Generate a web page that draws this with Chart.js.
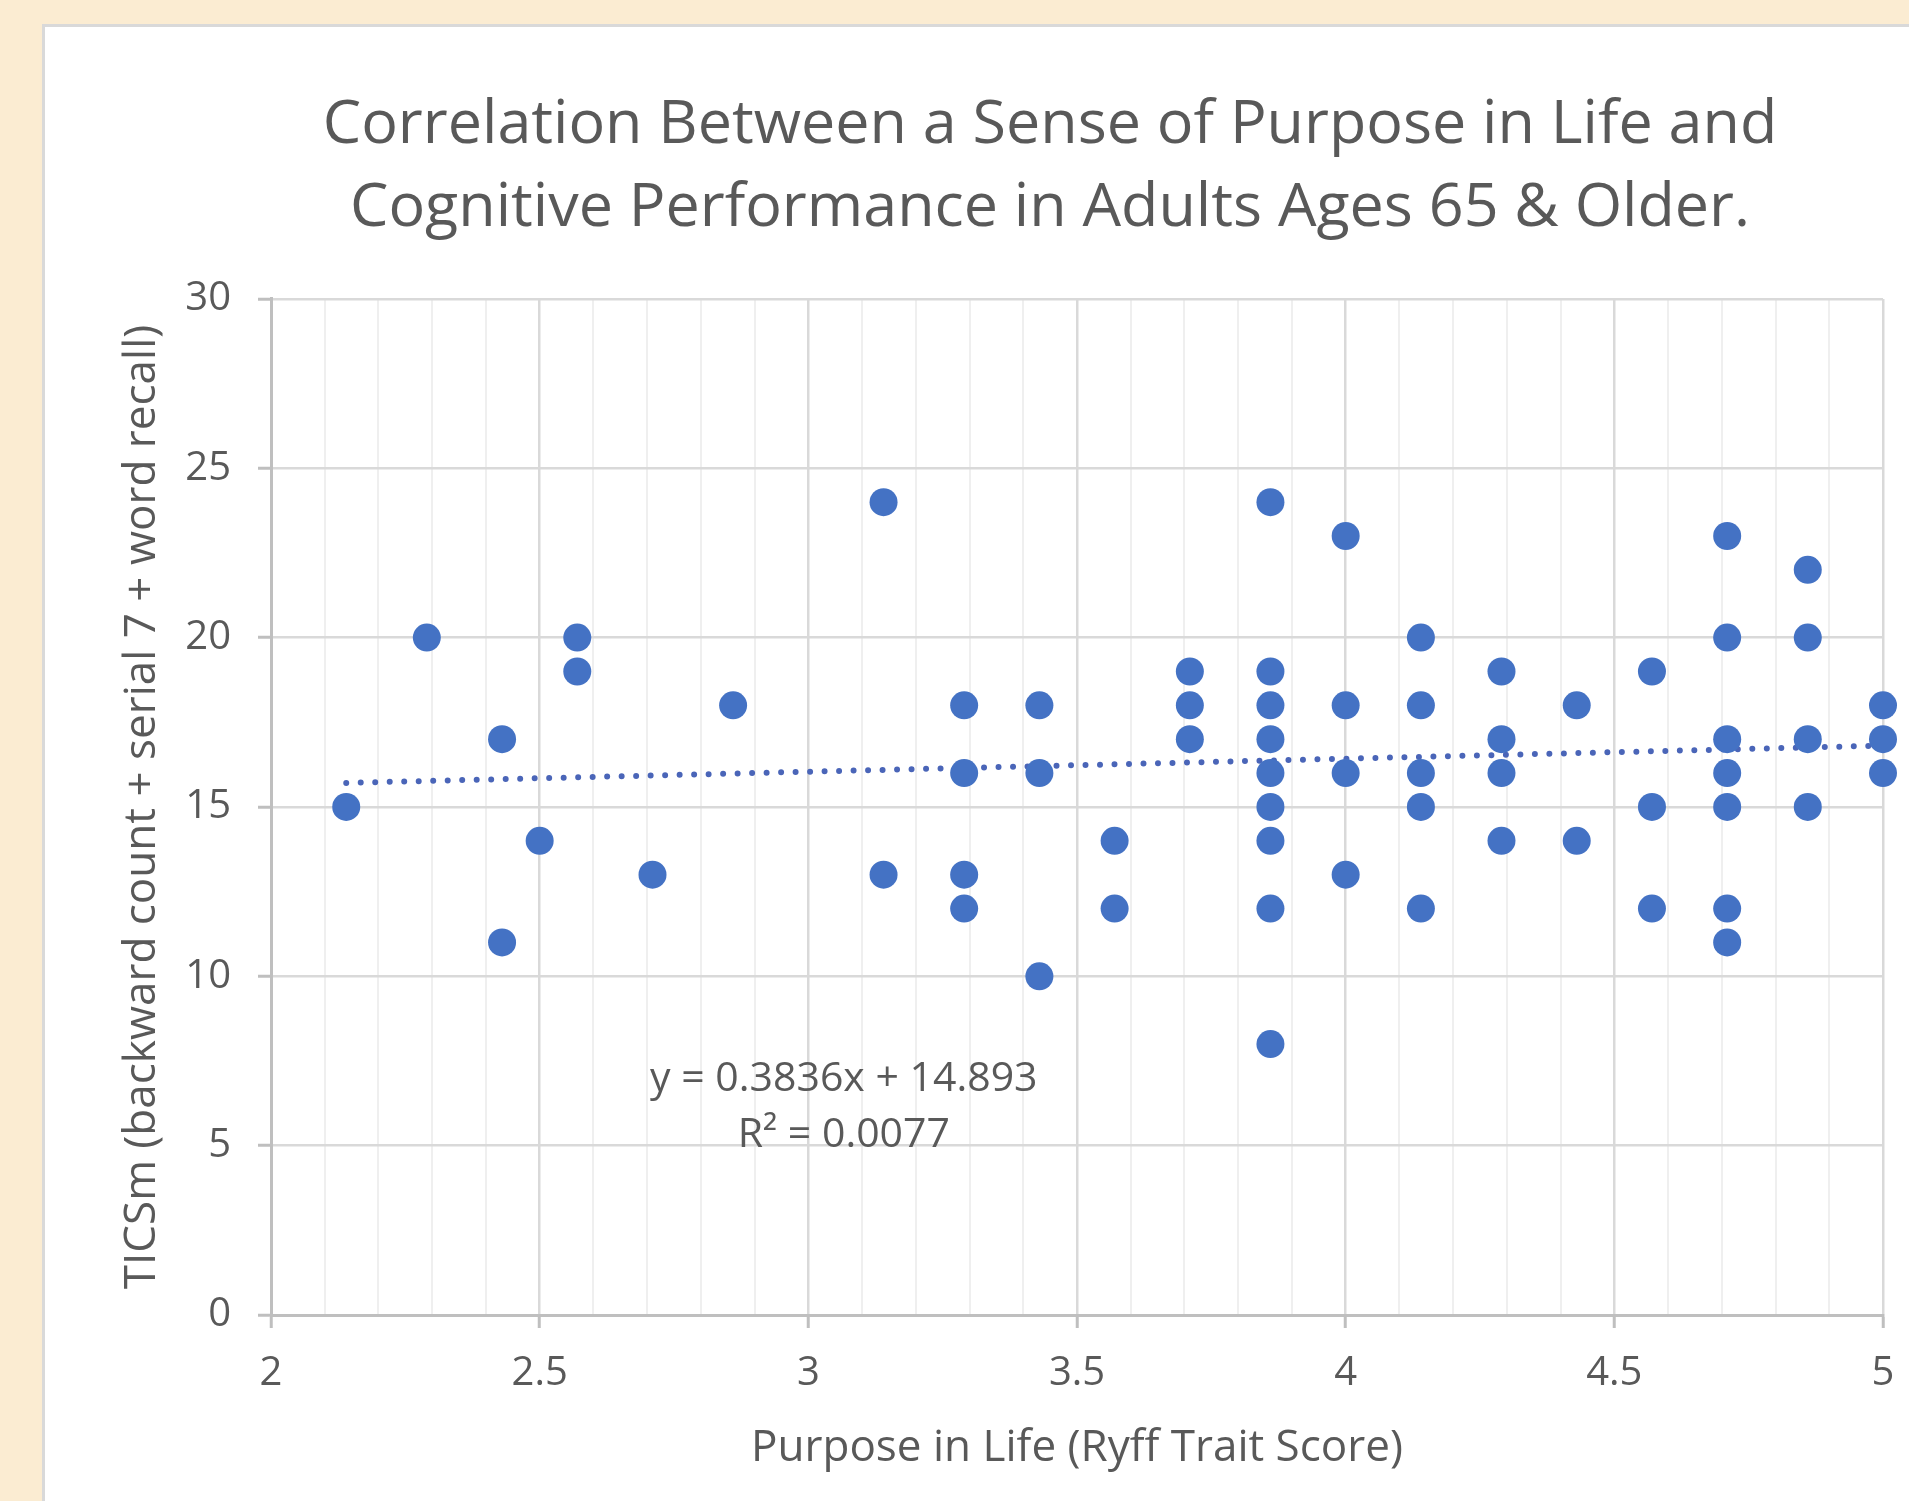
<!DOCTYPE html>
<html>
<head>
<meta charset="utf-8">
<script src="https://cdn.jsdelivr.net/npm/chart.js@4.4.1/dist/chart.umd.min.js"></script>
<style>
  html, body { margin: 0; padding: 0; background: #fbecd2; overflow: hidden; }
  #panel {
    position: absolute; left: 42px; top: 24px; width: 1900px; height: 1500px;
    background: #ffffff; border-left: 3px solid #d9d9d9; border-top: 3px solid #d9d9d9;
  }
  #wrap { position: absolute; left: 0; top: 0; width: 1909px; height: 1501px; }
</style>
</head>
<body>
<div id="panel"></div>
<div id="wrap"><canvas id="grafico"></canvas></div>
<script>
/* ===================== DATOS ===================== */
// puntaje de propósito (eje X) y TICSm (eje Y), un punto por posición
const purposeScore = [
  2.14, 2.29, 2.43, 2.43, 2.5, 2.57, 2.57, 2.71, 2.86, 3.14, 3.14,
  3.29, 3.29, 3.29, 3.29, 3.43, 3.43, 3.43, 3.57, 3.57, 3.71, 3.71, 3.71,
  3.86, 3.86, 3.86, 3.86, 3.86, 3.86, 3.86, 3.86, 3.86,
  4, 4, 4, 4, 4.14, 4.14, 4.14, 4.14, 4.14, 4.29, 4.29, 4.29, 4.29,
  4.43, 4.43, 4.57, 4.57, 4.57,
  4.71, 4.71, 4.71, 4.71, 4.71, 4.71, 4.71, 4.86, 4.86, 4.86, 4.86,
  5, 5, 5,
];
const ticsScore = [
  15, 20, 17, 11, 14, 20, 19, 13, 18, 24, 13,
  18, 16, 13, 12, 18, 16, 10, 14, 12, 19, 18, 17,
  24, 19, 18, 17, 16, 15, 14, 12, 8,
  23, 18, 16, 13, 20, 18, 16, 15, 12, 19, 17, 16, 14,
  18, 14, 19, 15, 12,
  23, 20, 17, 16, 15, 12, 11, 22, 20, 17, 15,
  18, 17, 16,
];

const trendX = [2.14, 5];
const trendY = [15.71, 16.81];
const trendText = ["y = 0.3836x + 14.893", "R\u00b2 = 0.0077"];

const titulo = [
  "Correlation Between a Sense of Purpose in Life and",
  "Cognitive Performance in Adults Ages 65 & Older.",
];
const tituloX = "Purpose in Life (Ryff Trait Score)";
const tituloY = "TICSm (backward count + serial 7 + word recall)";

/* ===================== ESTILO ===================== */
const FUENTE = "'Open Sans', Lato, sans-serif";
const GRIS_TEXTO = "#595959";
const AZUL = "#4472c4";

const esMayor = (v) => Math.abs(Math.round(v * 10) % 5) === 0;

/* ===================== ETIQUETA DE ECUACIÓN ===================== */
const etiquetaTendencia = {
  id: "etiquetaTendencia",
  afterDatasetsDraw(chart) {
    const { ctx, scales } = chart;
    const x = scales.x.getPixelForValue(3.066);
    const y1 = scales.y.getPixelForValue(6.97);
    const y2 = scales.y.getPixelForValue(5.31);
    ctx.save();
    ctx.font = "41px " + FUENTE;
    ctx.fillStyle = GRIS_TEXTO;
    ctx.textAlign = "center";
    ctx.textBaseline = "middle";
    ctx.fillText(trendText[0], x, y1);
    ctx.fillText(trendText[1], x, y2);
    ctx.restore();
  },
};

/* ===================== TÍTULO DESPLAZADO ===================== */
// el título del original está centrado sobre el panel blanco, no sobre el lienzo
const centrarTitulo = {
  id: "centrarTitulo",
  afterLayout(chart) {
    if (chart.titleBlock) {
      chart.titleBlock.left = 217;
      chart.titleBlock.right = 1883;
      chart.titleBlock.width = 1666;
    }
  },
};

/* ===================== GRÁFICO ===================== */
new Chart(document.getElementById("grafico"), {
  type: "scatter",
  data: {
    datasets: [
      {
        label: "TICSm",
        data: purposeScore.map((x, i) => ({ x, y: ticsScore[i] })),
        backgroundColor: AZUL,
        borderColor: AZUL,
        pointRadius: 14,
        pointHoverRadius: 14,
        borderWidth: 0,
        clip: false,
        order: 1,
      },
      {
        label: "Tendencia",
        type: "line",
        data: trendX.map((x, i) => ({ x, y: trendY[i] })),
        borderColor: "#4a65b8",
        borderWidth: 6,
        borderDash: [0, 14.5],
        borderCapStyle: "round",
        pointRadius: 0,
        fill: false,
        clip: false,
        order: 2,
      },
    ],
  },
  plugins: [etiquetaTendencia, centrarTitulo],
  options: {
    responsive: true,
    maintainAspectRatio: false,
    animation: false,
    layout: { padding: { top: 0, left: 0, right: 26, bottom: 0 } },
    plugins: {
      legend: { display: false },
      tooltip: { enabled: false },
      title: {
        display: true,
        text: titulo,
        color: GRIS_TEXTO,
        font: { family: FUENTE, size: 61, weight: "normal", lineHeight: 1.36 },
        padding: { top: 84, bottom: 49 },
      },
    },
    scales: {
      x: {
        type: "linear",
        min: 2,
        max: 5,
        afterFit: (s) => {
          s.height = 186;
          s.paddingLeft = 0;
          s.paddingRight = 0;
        },
        ticks: {
          stepSize: 0.1,
          autoSkip: false,
          maxRotation: 0,
          color: GRIS_TEXTO,
          font: { family: FUENTE, size: 40 },
          padding: 22,
          callback: (v) => (esMayor(v) ? String(Math.round(v * 10) / 10) : ""),
        },
        grid: {
          color: (c) => (esMayor(c.tick.value) ? "#d9d9d9" : "#efefef"),
          lineWidth: (c) => (esMayor(c.tick.value) ? 2.5 : 2),
          tickColor: (c) => (esMayor(c.tick.value) ? "#bfbfbf" : "rgba(0,0,0,0)"),
          tickLength: 13,
          tickWidth: 3,
        },
        border: { color: "#bfbfbf", width: 3 },
        title: {
          display: true,
          text: tituloX,
          color: GRIS_TEXTO,
          font: { family: FUENTE, size: 44, lineHeight: 1.2 },
          padding: { top: 0, bottom: 26 },
        },
      },
      y: {
        min: 0,
        max: 30,
        afterFit: (s) => { s.width = 271; },
        ticks: {
          stepSize: 5,
          color: GRIS_TEXTO,
          font: { family: FUENTE, size: 40 },
          padding: 27,
        },
        grid: {
          color: "#d9d9d9",
          lineWidth: 2.5,
          tickColor: "#bfbfbf",
          tickLength: 13,
          tickWidth: 3,
        },
        border: { color: "#bfbfbf", width: 3 },
        title: {
          display: true,
          text: tituloY,
          color: GRIS_TEXTO,
          font: { family: FUENTE, size: 44, lineHeight: 1.2 },
          padding: { top: 116, bottom: 0 },
        },
      },
    },
  },
});
</script>
</body>
</html>
